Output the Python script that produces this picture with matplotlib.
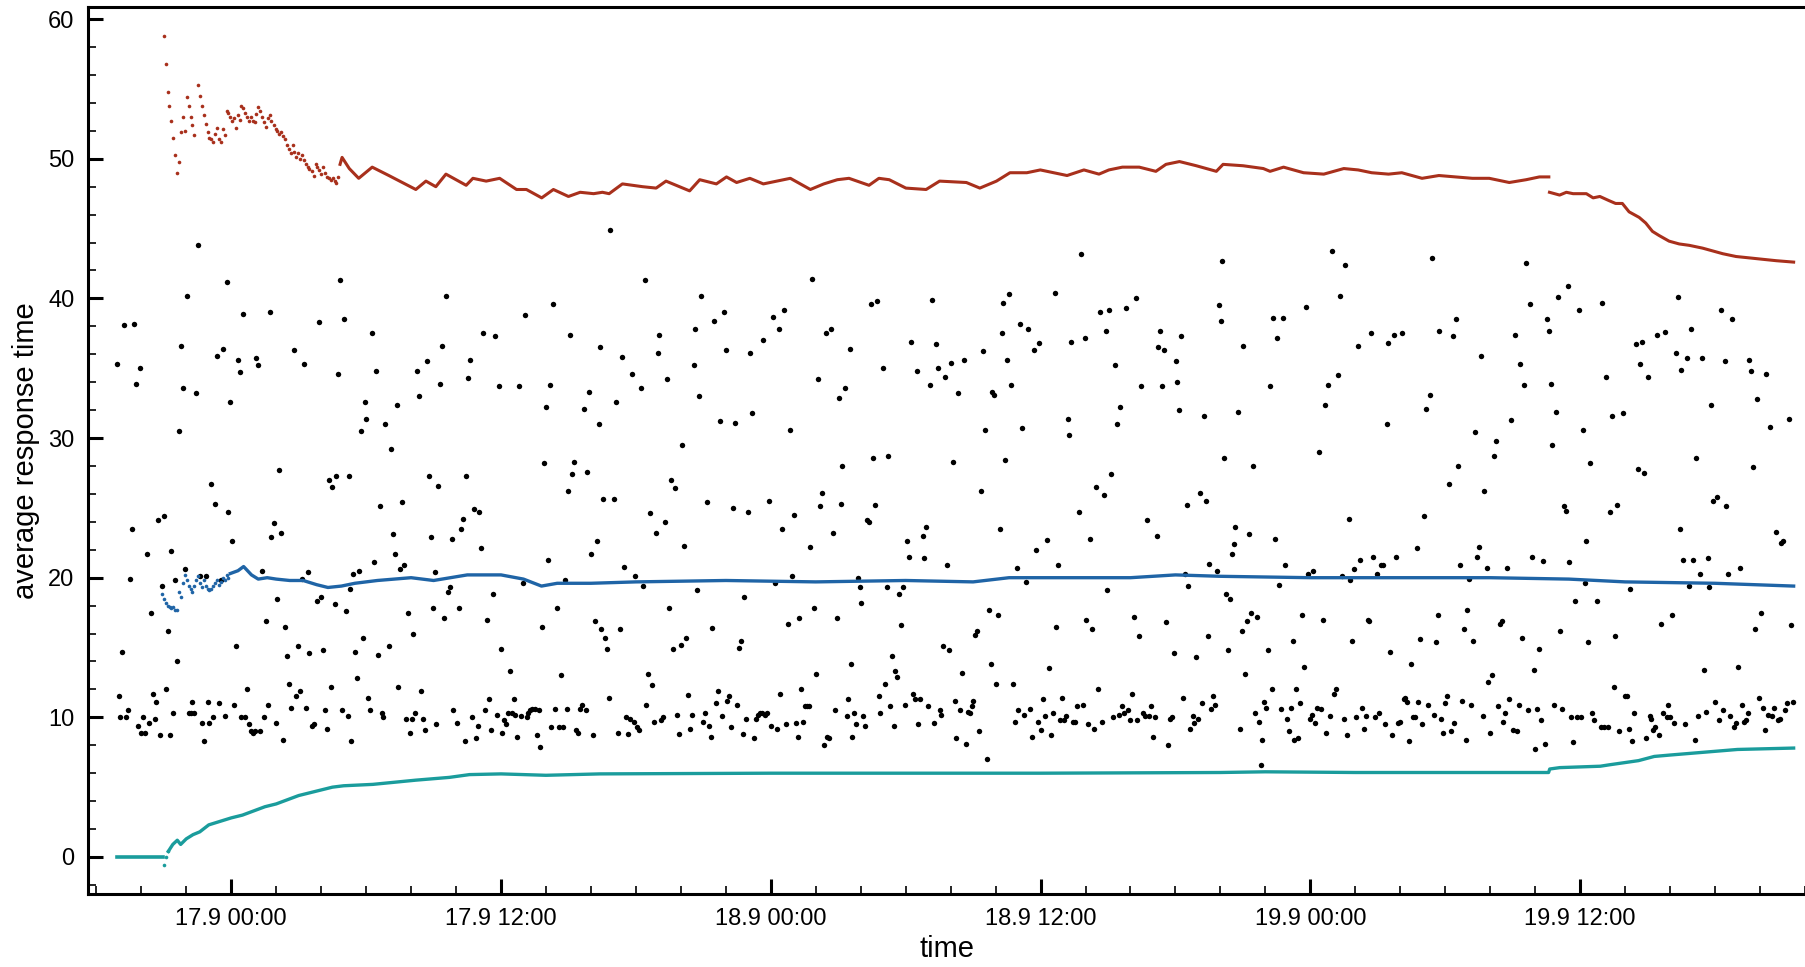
from datetime import datetime, timedelta
import matplotlib
matplotlib.use("Agg")
import matplotlib.pyplot as plt
import matplotlib.dates as mdates
from matplotlib.ticker import MultipleLocator, FuncFormatter
import numpy as np

plt.rcParams["font.family"] = ["Liberation Sans", "DejaVu Sans"]

# all times are hours relative to 17.9 00:00
BASE = datetime(2013, 9, 17)

dots_a = [(-5.10, 35.3), (-4.76, 38.1), (-4.33, 38.2), (-4.24, 33.9), (-4.07, 35.0), (-4.84, 14.7),
          (-5.01, 11.5), (-4.93, 10.0), (-4.67, 10.0), (-4.58, 10.5), (-4.51, 19.9), (-4.42, 23.5),
          (-4.16, 9.4), (-4.0, 8.9), (-3.91, 10.0), (-3.84, 8.9), (-3.75, 21.7), (-3.66, 9.6),
          (-3.58, 17.5), (-3.49, 11.7), (-3.40, 9.9), (-3.33, 11.1), (-3.24, 24.1), (-3.16, 8.7),
          (-3.07, 19.4), (-2.99, 24.4), (-2.90, 12.0), (-2.82, 16.2), (-2.73, 8.7), (-2.66, 21.9),
          (-2.57, 10.3), (-2.48, 19.8), (-2.40, 14.0), (-2.31, 30.5), (-2.24, 36.6), (-2.15, 33.6),
          (-2.06, 20.6), (-1.99, 40.2), (-1.90, 10.3), (-1.81, 10.3), (-1.73, 11.1), (-1.64, 10.3),
          (-1.55, 33.2), (-1.48, 43.8), (-1.39, 20.1), (-1.30, 9.6), (-1.22, 8.3), (-1.13, 20.1),
          (-1.04, 11.1), (-0.97, 9.6), (-0.88, 26.7), (-0.79, 10.0), (-0.72, 25.3), (-0.63, 35.9),
          (-0.55, 11.0), (-0.46, 19.8), (-0.37, 36.4), (-0.30, 10.1), (-0.21, 41.2), (-0.13, 24.7),
          (-0.04, 32.6), (0.03, 22.6), (0.12, 10.9), (0.19, 15.1), (0.28, 35.6), (0.37, 34.7),
          (0.45, 10.0), (0.54, 38.9), (0.63, 10.0), (0.70, 12.0), (0.79, 9.5), (0.88, 9.0),
          (0.96, 8.9), (1.04, 9.0), (1.12, 35.7), (1.21, 35.2), (1.30, 9.0), (1.37, 20.5),
          (1.46, 10.0), (1.54, 16.9), (1.63, 10.9), (1.72, 39.0), (1.79, 22.9), (1.88, 23.9),
          (1.97, 9.6), (2.04, 18.5), (2.13, 27.7), (2.22, 23.2), (2.30, 8.4), (2.39, 16.5),
          (2.48, 14.4), (2.55, 12.4), (2.64, 10.7), (2.79, 36.3), (2.88, 11.5), (2.99, 15.1),
          (3.07, 11.9), (3.15, 19.9), (3.22, 35.3), (3.31, 10.7), (3.40, 20.4), (3.48, 14.6),
          (3.57, 9.4), (3.66, 9.5), (3.82, 18.3), (3.91, 38.3), (3.99, 18.6), (4.07, 14.8),
          (4.16, 10.5), (4.25, 9.2), (4.34, 27.0), (4.42, 12.2), (4.48, 26.5), (4.60, 18.1),
          (4.67, 27.3), (4.75, 34.6), (4.84, 41.3), (4.93, 10.5), (5.0, 38.5), (5.09, 17.6),
          (5.18, 10.1), (5.25, 27.3)]
dots_b = [(5.30, 19.2), (5.34, 8.3), (5.40, 20.3), (5.49, 14.7), (5.60, 12.8), (5.69, 20.5),
          (5.76, 30.5), (5.84, 15.7), (5.93, 32.6), (6.0, 31.4), (6.09, 11.4), (6.18, 10.5),
          (6.27, 37.5), (6.34, 21.1), (6.43, 34.8), (6.52, 14.5), (6.60, 25.1), (6.69, 10.3),
          (6.76, 10.0), (6.85, 31.0), (7.01, 15.1), (7.10, 29.2), (7.19, 23.1), (7.27, 21.7),
          (7.36, 32.4), (7.43, 12.2), (7.52, 20.6), (7.61, 25.4), (7.69, 20.9), (7.78, 9.9),
          (7.87, 17.5), (7.94, 8.9), (8.03, 9.9), (8.10, 16.0), (8.19, 10.3), (8.28, 34.8),
          (8.36, 33.0), (8.45, 11.9), (8.54, 9.9), (8.61, 9.1), (8.70, 35.5), (8.78, 27.3),
          (8.87, 22.9), (8.96, 17.8), (9.05, 20.4), (9.12, 9.5), (9.21, 26.6), (9.28, 33.9),
          (9.37, 36.6), (9.46, 17.1), (9.55, 40.2), (9.63, 19.0), (9.72, 19.3), (9.81, 22.8),
          (9.88, 10.5), (10.04, 9.6), (10.12, 17.8), (10.21, 23.5), (10.30, 24.2), (10.39, 8.3),
          (10.46, 27.3), (10.55, 34.3), (10.63, 35.6), (10.72, 10.0), (10.81, 24.9), (10.88, 8.5),
          (10.97, 9.4), (11.04, 24.7), (11.13, 22.1), (11.22, 37.5), (11.30, 10.5), (11.39, 17.0),
          (11.46, 11.3), (11.54, 9.1), (11.64, 18.8), (11.72, 37.3), (11.81, 10.2), (11.90, 33.7),
          (11.99, 14.9), (12.06, 8.9), (12.15, 9.8), (12.24, 9.5), (12.33, 10.3), (12.40, 13.3),
          (12.48, 10.3), (12.57, 11.3), (12.64, 10.2), (12.73, 8.6), (12.82, 33.7), (12.91, 10.1),
          (12.99, 19.6), (13.07, 38.8), (13.15, 10.0), (13.22, 10.3), (13.31, 10.5), (13.40, 10.6),
          (13.49, 10.6), (13.58, 8.7), (13.67, 10.5), (13.75, 7.9), (13.82, 16.5), (13.90, 28.2),
          (13.99, 32.2), (14.07, 21.3), (14.16, 33.8), (14.24, 9.3), (14.33, 39.6), (14.42, 10.6),
          (14.49, 17.8), (14.58, 9.3), (14.66, 13.0), (14.75, 9.3), (14.84, 19.8), (14.93, 10.6),
          (15.0, 26.2), (15.09, 37.4), (15.18, 27.4), (15.25, 28.3), (15.34, 9.1), (15.43, 8.9),
          (15.51, 10.6), (15.60, 10.9), (15.69, 32.1), (15.76, 10.5), (15.84, 27.6), (15.93, 33.3),
          (16.0, 21.7), (16.09, 8.7), (16.18, 16.9), (16.25, 22.6), (16.34, 31.0), (16.39, 36.5)]
dots_c = [(16.45, 16.3), (16.54, 25.6), (16.61, 15.7), (16.70, 14.9), (16.79, 11.4), (16.87, 44.9),
          (17.03, 25.6), (17.12, 32.6), (17.21, 8.9), (17.30, 16.3), (17.37, 35.8), (17.46, 20.8),
          (17.55, 10.0), (17.64, 8.8), (17.72, 9.9), (17.81, 34.6), (17.90, 9.7), (17.97, 20.1),
          (18.06, 9.3), (18.15, 9.1), (18.22, 33.6), (18.30, 19.4), (18.39, 41.3), (18.46, 10.9),
          (18.55, 13.1), (18.63, 24.6), (18.72, 12.3), (18.79, 9.7), (18.88, 23.2), (18.97, 36.1),
          (19.04, 37.4), (19.13, 9.8), (19.22, 10.0), (19.31, 24.0), (19.39, 34.2), (19.48, 17.8),
          (19.57, 27.0), (19.64, 14.9), (19.73, 26.4), (19.82, 10.2), (19.90, 8.8), (19.99, 15.2),
          (20.07, 29.5), (20.15, 22.3), (20.24, 15.7), (20.31, 11.6), (20.40, 9.2), (20.49, 10.2),
          (20.57, 35.2), (20.64, 37.8), (20.73, 19.1), (20.82, 33.0), (20.91, 40.2), (20.99, 9.7),
          (21.07, 10.3), (21.15, 25.4), (21.24, 9.4), (21.33, 8.6), (21.40, 16.4), (21.49, 38.4),
          (21.58, 11.0), (21.67, 11.9), (21.75, 31.2), (21.84, 10.1), (21.91, 39.0), (21.99, 36.3),
          (22.07, 11.2), (22.15, 11.5), (22.24, 9.3), (22.33, 25.0), (22.40, 31.1), (22.49, 10.9),
          (22.58, 15.0), (22.66, 15.5), (22.75, 8.8), (22.82, 18.6), (22.91, 9.9), (23.0, 24.7),
          (23.09, 36.1), (23.16, 31.8), (23.25, 8.5), (23.33, 9.9), (23.42, 10.2), (23.51, 10.3),
          (23.60, 10.3), (23.67, 37.0), (23.76, 10.2), (23.85, 10.3), (23.93, 25.5), (24.01, 9.4),
          (24.09, 38.7), (24.18, 19.6), (24.27, 9.2), (24.36, 37.8), (24.43, 11.7), (24.52, 23.5),
          (24.60, 39.2), (24.69, 9.5), (24.78, 16.7), (24.85, 30.6), (24.94, 20.1), (25.03, 24.5),
          (25.10, 9.6), (25.19, 8.6), (25.27, 17.1), (25.34, 12.0), (25.43, 9.7), (25.52, 10.8),
          (25.61, 10.8), (25.69, 10.8), (25.76, 22.2), (25.85, 41.4), (25.94, 17.8), (26.01, 13.1),
          (26.10, 34.2), (26.18, 25.1), (26.27, 26.1), (26.36, 8.0), (26.45, 37.5), (26.52, 8.6),
          (26.60, 8.5), (26.69, 37.8), (26.78, 23.2), (26.85, 10.5), (26.94, 17.1), (27.03, 32.9),
          (27.12, 25.3), (27.19, 28.0), (27.28, 33.6), (27.37, 10.1), (27.45, 11.3), (27.51, 36.4)]
dots_d = [(27.55, 13.8), (27.63, 8.6), (27.72, 10.3), (27.79, 9.5), (27.88, 20.0), (27.96, 19.3),
          (28.03, 18.2), (28.12, 10.1), (28.21, 9.4), (28.30, 24.1), (28.37, 24.0), (28.46, 39.6),
          (28.55, 28.6), (28.64, 25.2), (28.73, 39.8), (28.81, 11.5), (28.88, 10.3), (28.97, 35.0),
          (29.06, 12.4), (29.15, 19.3), (29.22, 28.7), (29.30, 10.8), (29.39, 14.4), (29.46, 9.4),
          (29.54, 13.3), (29.63, 12.9), (29.72, 18.8), (29.81, 16.6), (29.88, 19.3), (29.97, 10.9),
          (30.06, 22.6), (30.15, 21.5), (30.24, 36.9), (30.31, 11.7), (30.40, 11.3), (30.49, 34.8),
          (30.57, 9.5), (30.66, 11.3), (30.75, 23.0), (30.82, 21.4), (30.91, 23.6), (31.00, 10.8),
          (31.07, 33.8), (31.16, 39.9), (31.25, 9.6), (31.33, 36.7), (31.42, 35.0), (31.51, 10.5),
          (31.58, 10.2), (31.67, 15.1), (31.76, 34.4), (31.84, 20.9), (31.93, 14.8), (32.0, 35.4),
          (32.09, 28.3), (32.18, 11.2), (32.25, 8.5), (32.34, 33.2), (32.43, 10.5), (32.51, 13.2),
          (32.58, 35.6), (32.67, 8.1), (32.76, 10.4), (32.85, 10.3), (32.93, 10.8), (33.01, 11.2),
          (33.10, 15.9), (33.18, 16.2), (33.27, 9.0), (33.34, 26.2), (33.43, 36.2), (33.51, 30.6),
          (33.60, 7.0), (33.69, 17.7), (33.78, 13.8), (33.85, 33.3), (33.93, 33.1), (34.01, 12.4),
          (34.10, 17.3), (34.19, 23.5), (34.28, 37.5), (34.34, 39.7), (34.43, 28.4), (34.51, 35.6),
          (34.60, 40.3), (34.67, 33.8), (34.76, 12.4), (34.85, 9.7), (34.94, 20.7), (35.01, 10.5),
          (35.10, 38.2), (35.19, 30.7), (35.27, 10.2), (35.36, 19.7), (35.45, 37.8), (35.54, 10.6),
          (35.61, 8.6), (35.69, 36.3), (35.78, 22.0), (35.87, 9.7), (35.94, 36.8), (36.03, 9.1),
          (36.10, 11.3), (36.19, 10.1), (36.28, 22.7), (36.37, 13.5), (36.45, 8.7), (36.54, 10.3),
          (36.63, 40.4), (36.70, 16.5), (36.79, 20.9), (36.87, 9.8), (36.96, 11.4), (37.04, 9.8),
          (37.12, 10.1), (37.21, 31.4), (37.28, 30.2), (37.37, 36.9), (37.46, 9.7), (37.55, 9.7),
          (37.63, 10.8), (37.72, 24.7), (37.79, 43.2), (37.88, 10.9), (37.97, 37.2), (38.04, 17.0),
          (38.13, 9.5), (38.21, 22.8), (38.30, 16.3), (38.39, 9.2), (38.46, 26.5), (38.55, 12.0),
          (38.63, 39.0)]
dots_e = [(38.72, 9.7), (38.81, 25.9), (38.90, 37.7), (38.97, 19.1), (39.06, 39.2), (39.15, 27.4),
          (39.22, 10.0), (39.30, 35.2), (39.39, 31.0), (39.48, 10.2), (39.55, 32.2), (39.64, 10.8),
          (39.73, 10.3), (39.81, 39.3), (39.90, 10.5), (39.97, 9.8), (40.06, 11.7), (40.15, 17.2),
          (40.24, 40.0), (40.31, 9.8), (40.40, 15.8), (40.48, 33.7), (40.57, 10.3), (40.66, 10.1),
          (40.75, 24.1), (40.82, 10.1), (40.91, 10.8), (41.0, 8.6), (41.07, 10.0), (41.16, 23.0),
          (41.24, 36.5), (41.33, 37.7), (41.42, 33.7), (41.51, 36.3), (41.58, 16.8), (41.67, 8.0),
          (41.76, 9.9), (41.85, 10.0), (41.93, 14.6), (42.01, 35.5), (42.09, 34.0), (42.16, 32.0),
          (42.25, 37.3), (42.34, 11.4), (42.42, 20.3), (42.51, 25.2), (42.58, 19.4), (42.67, 9.2),
          (42.76, 10.1), (42.84, 9.6), (42.93, 14.3), (43.01, 9.9), (43.09, 26.1), (43.18, 11.0),
          (43.25, 31.6), (43.34, 25.5), (43.43, 15.8), (43.51, 21.0), (43.60, 10.6), (43.69, 11.5),
          (43.76, 10.9), (43.85, 20.5), (43.93, 39.5), (44.01, 38.4), (44.09, 42.7), (44.18, 28.6),
          (44.27, 18.8), (44.36, 14.8), (44.43, 18.5), (44.52, 21.7), (44.60, 22.4), (44.67, 23.6),
          (44.78, 31.9), (44.87, 9.2), (44.94, 16.2), (45.01, 36.6), (45.10, 13.1), (45.19, 16.9),
          (45.27, 23.1), (45.36, 17.5), (45.45, 28.0), (45.52, 10.3), (45.61, 17.2), (45.70, 9.7),
          (45.79, 6.6), (45.85, 8.4), (45.93, 11.1), (46.01, 10.7), (46.10, 14.8), (46.19, 33.7),
          (46.28, 12.0), (46.36, 38.6), (46.45, 22.8), (46.52, 37.2), (46.61, 19.5), (46.70, 10.6),
          (46.78, 38.6), (46.87, 20.9), (46.96, 9.9), (47.04, 9.0), (47.12, 10.7), (47.21, 15.5),
          (47.28, 8.4), (47.37, 12.0), (47.45, 8.5), (47.54, 11.0), (47.63, 17.3), (47.72, 13.6),
          (47.81, 39.4), (47.88, 20.3), (47.97, 9.9), (48.06, 10.2), (48.13, 20.5), (48.22, 9.6),
          (48.31, 10.7), (48.39, 29.0), (48.48, 10.6), (48.55, 17.0), (48.64, 32.4), (48.72, 8.9),
          (48.79, 33.8), (48.88, 10.1), (48.97, 43.4), (49.06, 11.7), (49.13, 12.0), (49.21, 34.5),
          (49.30, 40.2), (49.39, 20.1), (49.48, 9.9), (49.55, 42.4), (49.64, 8.7), (49.72, 24.2)]
dots_f = [(49.78, 19.8), (49.85, 15.5), (49.94, 20.6), (50.03, 10.0), (50.12, 36.6), (50.19, 21.3),
          (50.28, 10.7), (50.37, 9.2), (50.46, 10.1), (50.55, 17.0), (50.63, 16.9), (50.72, 37.5),
          (50.79, 21.5), (50.88, 10.0), (50.97, 20.3), (51.04, 10.3), (51.13, 20.9), (51.22, 20.9),
          (51.31, 9.5), (51.39, 31.0), (51.46, 36.8), (51.55, 14.7), (51.64, 8.7), (51.72, 37.4),
          (51.81, 21.5), (51.90, 9.6), (51.97, 9.7), (52.06, 37.5), (52.15, 11.3), (52.22, 11.4),
          (52.31, 11.1), (52.40, 8.3), (52.49, 13.8), (52.57, 10.0), (52.64, 10.0), (52.73, 22.1),
          (52.81, 11.1), (52.90, 15.6), (52.99, 9.5), (53.06, 24.4), (53.15, 32.1), (53.24, 10.9),
          (53.31, 33.1), (53.40, 42.9), (53.49, 10.2), (53.57, 15.4), (53.66, 17.3), (53.73, 37.7),
          (53.82, 9.9), (53.90, 8.9), (53.99, 11.0), (54.06, 11.5), (54.15, 26.7), (54.24, 9.0),
          (54.33, 37.3), (54.40, 9.6), (54.48, 38.5), (54.57, 28.0), (54.66, 20.9), (54.75, 11.2),
          (54.82, 16.3), (54.91, 8.4), (54.99, 17.7), (55.07, 19.9), (55.16, 10.9), (55.25, 15.5),
          (55.33, 30.4), (55.42, 21.5), (55.49, 22.2), (55.58, 35.9), (55.67, 10.1), (55.73, 26.2),
          (55.84, 20.7), (55.91, 12.5), (56.0, 8.9), (56.09, 13.0), (56.16, 28.7), (56.25, 29.8),
          (56.33, 10.8), (56.42, 16.7), (56.51, 16.9), (56.58, 9.7), (56.67, 10.3), (56.76, 20.7),
          (56.85, 11.3), (56.93, 31.3), (57.0, 9.1), (57.09, 37.4), (57.18, 9.0), (57.27, 10.9),
          (57.34, 35.3), (57.43, 15.7), (57.51, 33.8), (57.60, 42.5), (57.69, 10.5), (57.76, 39.6),
          (57.85, 21.5), (57.94, 13.4), (58.01, 7.7), (58.10, 10.6), (58.18, 14.9), (58.27, 9.8),
          (58.36, 21.2), (58.43, 8.1), (58.52, 38.5), (58.60, 37.7), (58.69, 33.9), (58.76, 29.5),
          (58.85, 10.9), (58.94, 31.9), (59.03, 40.1), (59.10, 16.2), (59.19, 10.6), (59.28, 25.1),
          (59.36, 24.8), (59.45, 40.9), (59.52, 21.1), (59.61, 10.0), (59.70, 8.2), (59.79, 18.3),
          (59.87, 10.0), (59.94, 39.2), (60.03, 10.0), (60.12, 30.6), (60.21, 19.6), (60.28, 22.6),
          (60.37, 15.4), (60.46, 28.2), (60.55, 10.3), (60.64, 9.8), (60.76, 18.3)]
dots_g = [(60.91, 9.3), (60.99, 39.7), (61.08, 9.3), (61.15, 34.4), (61.24, 9.3), (61.33, 24.7),
          (61.40, 31.6), (61.49, 12.2), (61.57, 15.8), (61.66, 25.2), (61.75, 9.0), (61.91, 31.8),
          (61.99, 11.5), (62.07, 11.5), (62.16, 9.2), (62.24, 19.2), (62.33, 8.3), (62.42, 10.3),
          (62.51, 36.7), (62.58, 27.8), (62.67, 35.3), (62.74, 36.9), (62.83, 27.5), (62.92, 8.5),
          (63.01, 34.4), (63.09, 10.1), (63.17, 9.9), (63.25, 9.1), (63.34, 9.3), (63.43, 37.4),
          (63.52, 8.7), (63.59, 16.7), (63.68, 10.3), (63.77, 37.6), (63.85, 10.0), (63.93, 10.9),
          (64.01, 10.0), (64.10, 17.3), (64.19, 9.6), (64.26, 36.1), (64.35, 40.1), (64.43, 23.5),
          (64.51, 34.9), (64.59, 21.3), (64.68, 9.5), (64.77, 35.7), (64.84, 19.4), (64.93, 37.8),
          (65.02, 21.3), (65.10, 8.4), (65.17, 28.6), (65.26, 10.1), (65.33, 20.3), (65.42, 35.7),
          (65.51, 13.4), (65.59, 10.4), (65.68, 21.4), (65.75, 19.3), (65.84, 32.4), (65.92, 25.5),
          (66.0, 11.1), (66.09, 25.8), (66.18, 9.8), (66.27, 39.2), (66.35, 10.5), (66.43, 35.5),
          (66.51, 25.1), (66.60, 20.3), (66.69, 10.1), (66.78, 38.5), (66.85, 9.3), (66.94, 9.6),
          (67.03, 13.6), (67.10, 20.7), (67.19, 10.9), (67.27, 9.7), (67.36, 9.8), (67.45, 10.3),
          (67.52, 35.6), (67.61, 34.8), (67.68, 27.9), (67.77, 16.3), (67.86, 32.8), (67.94, 11.4),
          (68.03, 17.5), (68.12, 10.7), (68.21, 9.1), (68.28, 34.6), (68.37, 10.2), (68.44, 30.8),
          (68.53, 10.1), (68.62, 10.7), (68.70, 23.3), (68.79, 9.8), (68.88, 9.9), (68.96, 22.5),
          (69.04, 22.6), (69.13, 10.5), (69.22, 11.0), (69.29, 31.4), (69.38, 16.6), (69.46, 11.1)]

# red series: sparse start (dots), then a dense running value
red_start_h = [-3.0, -2.9, -2.82, -2.75, -2.66, -2.57, -2.48, -2.40, -2.31, -2.24, -2.15, -2.06,
               -1.99, -1.90, -1.81, -1.73, -1.64, -1.48, -1.39, -1.30, -1.22, -1.13, -1.04, -0.97,
               -0.88, -0.79, -0.72, -0.63, -0.55, -0.46, -0.37, -0.30, -0.21, -0.13, -0.04, 0.03,
               0.12, 0.19, 0.28, 0.37, 0.45, 0.54, 0.63, 0.70, 0.79, 0.88, 0.96, 1.04, 1.12, 1.21,
               1.30, 1.37, 1.46, 1.54, 1.63, 1.72, 1.79, 1.88, 1.97, 2.04, 2.13, 2.22, 2.30, 2.39,
               2.48, 2.55, 2.64, 2.73, 2.81, 2.90, 2.99, 3.06, 3.15, 3.22, 3.31, 3.40, 3.48, 3.57,
               3.66, 3.75, 3.82, 3.91, 4.0, 4.07, 4.16, 4.25, 4.34, 4.42, 4.51, 4.60, 4.67, 4.75]
red_start_v = [58.8, 56.8, 54.8, 53.8, 52.7, 51.5, 50.3, 49.0, 49.8, 51.9, 53.0, 52.0,
               54.4, 53.8, 53.0, 52.4, 51.7, 55.3, 54.5, 53.8, 53.1, 52.5, 51.9, 51.5,
               51.4, 51.2, 51.8, 52.2, 51.4, 51.2, 52.1, 51.7, 53.4, 53.3, 53.0, 52.7,
               52.9, 52.2, 53.1, 52.8, 53.8, 53.6, 53.3, 53.0, 52.7, 53.0, 52.7, 52.6, 53.2, 53.7,
               53.4, 53.0, 52.6, 52.3, 52.9, 53.1, 52.7, 52.4, 52.1, 52.0, 51.8, 51.9, 51.6, 51.4,
               51.0, 50.7, 50.4, 51.0, 50.5, 50.1, 50.4, 50.0, 50.3, 49.9, 49.6, 49.4, 49.3, 49.1,
               48.8, 49.6, 49.4, 49.2, 48.9, 49.4, 49.0, 48.7, 48.6, 48.5, 48.6, 48.4, 48.3, 48.7]
red_h = [4.84, 4.93, 5.09, 5.25, 5.67, 6.27, 7.01, 8.21, 8.66, 9.10, 9.55, 10.45, 10.75, 11.34,
         11.94, 12.69, 13.13, 13.81, 14.33, 15.0, 15.52, 16.12, 16.51, 16.81, 17.40, 18.30, 18.90,
         19.34, 20.39, 20.84, 21.58, 22.03, 22.48, 23.07, 23.67, 24.27, 24.87, 25.76, 26.36, 26.96,
         27.48, 28.37, 28.81, 29.27, 30.01, 30.91, 31.51, 32.70, 33.30, 34.04, 34.64, 35.39, 35.99,
         37.18, 37.93, 38.60, 39.04, 39.64, 40.39, 41.13, 41.58, 42.18, 42.93, 43.82, 44.12, 45.01,
         45.91, 46.21, 46.81, 47.70, 48.60, 49.49, 50.13, 50.73, 51.48, 52.07, 52.97, 53.72, 54.46,
         55.21, 55.96, 56.85, 57.60, 58.19, 58.61, 58.63,
         58.64, 59.09, 59.39, 59.69, 60.28, 60.58, 60.88, 61.29, 61.58, 61.88, 62.18, 62.63, 62.92,
         63.22, 63.52, 63.96, 64.41, 64.86, 65.45, 65.90, 66.35, 66.94, 67.54, 68.13, 68.73, 69.50]
red_v = [49.6, 50.1, 49.7, 49.3, 48.6, 49.4, 48.8, 47.8, 48.4, 48.0, 48.9, 48.1, 48.6, 48.4,
         48.6, 47.8, 47.8, 47.2, 47.8, 47.3, 47.6, 47.5, 47.6, 47.5, 48.2, 48.0, 47.9,
         48.4, 47.7, 48.5, 48.2, 48.7, 48.3, 48.6, 48.2, 48.4, 48.6, 47.8, 48.2, 48.5,
         48.6, 48.1, 48.6, 48.5, 47.9, 47.8, 48.4, 48.3, 47.9, 48.4, 49.0, 49.0, 49.2,
         48.8, 49.2, 48.9, 49.2, 49.4, 49.4, 49.1, 49.6, 49.8, 49.5, 49.1, 49.6, 49.5,
         49.3, 49.1, 49.4, 49.0, 48.9, 49.3, 49.2, 49.0, 48.9, 49.0, 48.6, 48.8, 48.7,
         48.6, 48.6, 48.3, 48.5, 48.7, 48.7, np.nan,
         47.6, 47.4, 47.6, 47.5, 47.5, 47.2, 47.3, 47.0, 46.8, 46.8, 46.2, 45.8, 45.4,
         44.8, 44.5, 44.1, 43.9, 43.8, 43.6, 43.4, 43.2, 43.0, 42.9, 42.8, 42.7, 42.6]

# blue series
blue_start_h = [-3.07, -2.99, -2.90, -2.82, -2.73, -2.66, -2.57, -2.48, -2.40, -2.31, -2.24, -2.15,
                -2.06, -1.99, -1.90, -1.81, -1.73, -1.64, -1.55, -1.48, -1.39, -1.30, -1.22, -1.13,
                -1.04, -0.97, -0.88, -0.79, -0.72, -0.63, -0.55, -0.46, -0.37, -0.30, -0.21, -0.13]
blue_start_v = [18.8, 18.5, 18.2, 18.0, 17.9, 17.8, 17.9, 17.7, 17.7, 19.0, 18.6, 19.6,
                20.2, 19.8, 19.4, 19.2, 19.0, 19.4, 19.8, 20.1, 19.6, 19.3, 19.8, 19.4,
                19.2, 19.1, 19.2, 19.4, 19.6, 19.8, 19.5, 19.7, 20.0, 19.8, 20.2, 20.0]
blue_h = [-0.04, 0.3, 0.55, 0.9, 1.2, 1.6, 2.0, 2.6, 3.2, 3.8, 4.3, 4.9, 5.5, 6.5, 8.0, 9.0,
          10.5, 12.0, 13.0, 13.8, 14.5, 16.0, 18.0, 22.0, 26.0, 30.0, 33.0, 34.6, 36.0, 40.0,
          42.0, 44.0, 48.0, 52.0, 56.0, 59.5, 62.0, 66.0, 69.5]
blue_v = [20.3, 20.5, 20.8, 20.2, 19.9, 20.0, 19.9, 19.8, 19.8, 19.5, 19.3, 19.4, 19.6, 19.8,
          20.0, 19.8, 20.2, 20.2, 19.9, 19.4, 19.6, 19.6, 19.7, 19.8, 19.7, 19.8, 19.7, 20.0,
          20.0, 20.0, 20.2, 20.1, 20.0, 20.0, 20.0, 19.9, 19.7, 19.6, 19.4]

# cyan series
cyan_flat_h = [-5.1, -3.05]
cyan_flat_v = [0.0, 0.0]
cyan_h = [-3.0, -2.9, -2.8, -2.6, -2.4, -2.25, -2.0, -1.7, -1.4, -1.0, -0.6, 0.0, 0.5, 1.0,
          1.5, 2.0, 2.5, 3.0, 3.5, 4.0, 4.5, 5.0, 6.3, 8.2, 9.7, 10.6, 12.0, 14.0, 16.4, 24.0,
          36.0, 44.0, 46.0, 50.0, 58.6, 58.65, 59.1, 60.0, 60.9, 61.3, 62.6, 63.3, 64.0, 65.5,
          67.0, 69.5]
cyan_v = [-0.6, 0.0, 0.4, 0.9, 1.2, 0.9, 1.3, 1.6, 1.8, 2.3, 2.5, 2.8, 3.0, 3.3,
          3.6, 3.8, 4.1, 4.4, 4.6, 4.8, 5.0, 5.1, 5.2, 5.5, 5.7, 5.9, 5.95, 5.85, 5.95, 6.0,
          6.0, 6.05, 6.1, 6.05, 6.05, 6.3, 6.4, 6.45, 6.5, 6.6, 6.9, 7.2, 7.3, 7.5,
          7.7, 7.8]

RED = "#a8301c"
BLUE = "#1f64a6"
CYAN = "#1a9c9c"


def to_time(hours):
    return [BASE + timedelta(hours=float(h)) for h in hours]


def day_month_fmt(x, pos=None):
    d = mdates.num2date(x)
    return f"{d.day}.{d.month} {d:%H:%M}"


def main():
    fig = plt.figure(figsize=(18.06, 9.67), dpi=100)
    ax = fig.add_axes([0.049, 0.0755, 0.951, 0.917])

    dots = dots_a + dots_b + dots_c + dots_d + dots_e + dots_f + dots_g
    dots_h = [p[0] for p in dots]
    dots_v = [p[1] for p in dots]
    ax.plot(to_time(dots_h), dots_v, linestyle="none", marker="o", ms=3.9, color="black", mew=0)

    ax.plot(to_time(red_start_h), red_start_v, linestyle="none", marker="o", ms=2.6, color=RED, mew=0)
    ax.plot(to_time(red_h), red_v, color=RED, lw=2.2)

    ax.plot(to_time(blue_start_h), blue_start_v, linestyle="none", marker="o", ms=2.6, color=BLUE, mew=0)
    ax.plot(to_time(blue_h), blue_v, color=BLUE, lw=2.4)

    ax.plot(to_time(cyan_flat_h), cyan_flat_v, color=CYAN, lw=2.6)
    ax.plot(to_time(cyan_h[:3]), cyan_v[:3], linestyle="none", marker="o", ms=2.6, color=CYAN, mew=0)
    ax.plot(to_time(cyan_h[2:]), cyan_v[2:], color=CYAN, lw=2.4)

    ax.set_xlim(to_time([-6.35, 70.05]))
    ax.set_ylim(-2.65, 60.85)

    ax.xaxis.set_major_locator(mdates.HourLocator(byhour=[0, 12]))
    ax.xaxis.set_minor_locator(mdates.HourLocator(byhour=range(0, 24, 2)))
    ax.xaxis.set_major_formatter(FuncFormatter(day_month_fmt))
    ax.yaxis.set_major_locator(MultipleLocator(10))
    ax.yaxis.set_minor_locator(MultipleLocator(2))

    for side in ("left", "bottom", "top"):
        ax.spines[side].set_linewidth(2.2)
    ax.spines["right"].set_visible(False)

    ax.tick_params(which="major", direction="in", length=11, width=2.2, labelsize=17, pad=10)
    ax.tick_params(which="minor", direction="in", length=5.5, width=1.2)
    ax.tick_params(which="both", top=False, right=False)

    ax.set_xlabel("time", fontsize=21, labelpad=4)
    ax.set_ylabel("average response time", fontsize=21, labelpad=6)

    fig.savefig("out.png", dpi=100)


if __name__ == "__main__":
    main()
